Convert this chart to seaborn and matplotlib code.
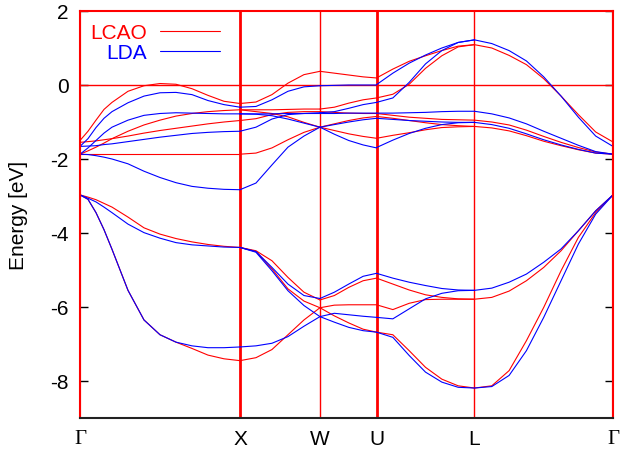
import numpy as np
import pandas as pd
import seaborn as sns
import matplotlib
matplotlib.use("Agg")
import matplotlib.pyplot as plt
from matplotlib.lines import Line2D

# ---------------- data ----------------
sym_labels = ["Γ", "X", "W", "U", "L", "Γ"]
sym_k = [0.0, 1.0, 1.5, 1.8536, 2.4659, 3.3319]

k_GX = [0.0, 0.05, 0.1, 0.15, 0.2, 0.3, 0.4, 0.5, 0.6, 0.7, 0.8, 0.9, 1.0]
k_XW = [1.0, 1.1, 1.2, 1.3, 1.4, 1.5]
k_WU = [1.5, 1.59, 1.68, 1.77, 1.8536]
k_UL = [1.8536, 1.9557, 2.0577, 2.1598, 2.2618, 2.3639, 2.4659]
k_LG = [2.4659, 2.5742, 2.6824, 2.7907, 2.8989, 3.0072, 3.1154, 3.2237, 3.3319]

LCAO_GX = [
    [-1.50, -1.25, -0.95, -0.66, -0.47, -0.17, -0.02, 0.04, 0.02, -0.10, -0.28, -0.44, -0.50],
    [-1.87, -1.78, -1.68, -1.57, -1.45, -1.25, -1.08, -0.95, -0.84, -0.77, -0.72, -0.69, -0.67],
    [-1.55, -1.53, -1.51, -1.48, -1.45, -1.38, -1.30, -1.23, -1.17, -1.11, -1.05, -1.00, -0.96],
    [-1.87, -1.87, -1.87, -1.87, -1.87, -1.87, -1.87, -1.87, -1.87, -1.87, -1.87, -1.87, -1.87],
    [-2.97, -3.03, -3.10, -3.20, -3.30, -3.57, -3.86, -4.03, -4.15, -4.24, -4.31, -4.36, -4.39],
    [-2.97, -3.09, -3.45, -3.91, -4.44, -5.55, -6.35, -6.75, -6.95, -7.12, -7.30, -7.40, -7.45],
]
LDA_GX = [
    [-1.66, -1.45, -1.15, -0.90, -0.72, -0.48, -0.30, -0.21, -0.20, -0.26, -0.42, -0.53, -0.60],
    [-1.87, -1.70, -1.50, -1.30, -1.14, -0.95, -0.82, -0.77, -0.75, -0.76, -0.77, -0.78, -0.78],
    [-1.66, -1.65, -1.64, -1.61, -1.59, -1.53, -1.47, -1.41, -1.36, -1.31, -1.28, -1.26, -1.25],
    [-1.87, -1.88, -1.91, -1.95, -2.00, -2.13, -2.33, -2.50, -2.64, -2.74, -2.79, -2.82, -2.83],
    [-2.97, -3.06, -3.16, -3.30, -3.45, -3.76, -3.99, -4.14, -4.26, -4.32, -4.35, -4.38, -4.39],
    [-2.97, -3.09, -3.45, -3.91, -4.44, -5.55, -6.35, -6.75, -6.95, -7.05, -7.10, -7.10, -7.08],
]

LCAO_XW = [
    [-0.50, -0.46, -0.26, 0.05, 0.28, 0.37],
    [-0.67, -0.72, -0.77, -0.86, -1.01, -1.14],
    [-0.67, -0.67, -0.67, -0.66, -0.65, -0.65],
    [-0.96, -0.91, -0.80, -0.74, -0.72, -0.72],
    [-1.87, -1.84, -1.70, -1.48, -1.28, -1.14],
    [-4.39, -4.48, -4.75, -5.20, -5.60, -5.81],
    [-4.39, -4.50, -4.97, -5.51, -5.84, -6.02],
    [-7.45, -7.37, -7.15, -6.75, -6.35, -6.02],
]
LDA_XW = [
    [-0.60, -0.58, -0.40, -0.17, -0.05, -0.02],
    [-0.78, -0.79, -0.83, -0.92, -1.03, -1.14],
    [-0.78, -0.78, -0.78, -0.77, -0.77, -0.77],
    [-1.25, -1.14, -0.92, -0.80, -0.77, -0.75],
    [-2.83, -2.65, -2.16, -1.68, -1.38, -1.14],
    [-4.39, -4.50, -4.93, -5.38, -5.69, -5.77],
    [-4.39, -4.52, -5.02, -5.56, -5.96, -6.26],
    [-7.08, -7.05, -6.98, -6.80, -6.52, -6.26],
]

LCAO_WU = [
    [0.37, 0.32, 0.27, 0.22, 0.19],
    [-0.65, -0.60, -0.49, -0.40, -0.35],
    [-0.72, -0.74, -0.76, -0.77, -0.77],
    [-1.14, -1.23, -1.32, -1.39, -1.44],
    [-1.14, -1.05, -0.96, -0.89, -0.85],
    [-5.81, -5.69, -5.47, -5.29, -5.22],
    [-6.02, -5.95, -5.94, -5.94, -5.94],
    [-6.02, -6.24, -6.43, -6.60, -6.68],
]
LDA_WU = [
    [-0.02, -0.01, 0.00, 0.00, 0.00],
    [-0.75, -0.72, -0.63, -0.53, -0.47],
    [-0.77, -0.77, -0.76, -0.76, -0.76],
    [-1.14, -1.33, -1.50, -1.62, -1.70],
    [-1.14, -1.07, -1.00, -0.94, -0.90],
    [-5.77, -5.60, -5.38, -5.17, -5.09],
    [-6.26, -6.17, -6.21, -6.25, -6.28],
    [-6.26, -6.41, -6.55, -6.64, -6.68],
]

LCAO_UL = [
    [0.19, 0.43, 0.64, 0.79, 0.93, 1.05, 1.09],
    [-0.35, -0.25, 0.02, 0.45, 0.79, 1.03, 1.09],
    [-0.77, -0.82, -0.87, -0.90, -0.93, -0.94, -0.95],
    [-0.85, -0.90, -0.96, -1.02, -1.07, -1.10, -1.12],
    [-1.44, -1.36, -1.29, -1.21, -1.15, -1.13, -1.12],
    [-5.22, -5.38, -5.54, -5.67, -5.74, -5.78, -5.79],
    [-5.94, -6.07, -5.90, -5.80, -5.79, -5.79, -5.79],
    [-6.68, -6.75, -7.18, -7.63, -7.95, -8.13, -8.19],
]
LDA_UL = [
    [0.01, 0.32, 0.59, 0.81, 1.00, 1.15, 1.22],
    [-0.47, -0.35, 0.07, 0.57, 0.93, 1.15, 1.22],
    [-0.76, -0.76, -0.75, -0.74, -0.72, -0.71, -0.71],
    [-0.90, -0.93, -0.96, -0.98, -1.00, -1.01, -1.01],
    [-1.69, -1.49, -1.31, -1.17, -1.07, -1.02, -1.01],
    [-5.09, -5.22, -5.33, -5.42, -5.50, -5.54, -5.55],
    [-6.28, -6.32, -6.05, -5.78, -5.63, -5.56, -5.55],
    [-6.68, -6.82, -7.31, -7.76, -8.03, -8.17, -8.19],
]

LCAO_LG = [
    [1.09, 1.00, 0.80, 0.55, 0.17, -0.30, -0.80, -1.27, -1.54],
    [-0.95, -1.00, -1.08, -1.22, -1.39, -1.55, -1.69, -1.81, -1.87],
    [-1.12, -1.16, -1.24, -1.37, -1.52, -1.64, -1.75, -1.84, -1.87],
    [-5.79, -5.74, -5.57, -5.29, -4.93, -4.48, -3.94, -3.40, -2.97],
    [-8.19, -8.13, -7.72, -6.91, -6.01, -5.02, -4.12, -3.45, -2.97],
]
LDA_LG = [
    [1.22, 1.12, 0.93, 0.65, 0.22, -0.30, -0.87, -1.38, -1.66],
    [-0.71, -0.78, -0.89, -1.05, -1.25, -1.44, -1.63, -1.80, -1.87],
    [-1.01, -1.07, -1.17, -1.32, -1.48, -1.62, -1.74, -1.84, -1.87],
    [-5.55, -5.49, -5.33, -5.11, -4.79, -4.43, -3.94, -3.40, -2.97],
    [-8.19, -8.15, -7.85, -7.18, -6.28, -5.29, -4.30, -3.49, -2.97],
]

methods = ["LCAO", "LDA"]
method_colors = {"LCAO": "#ff0000", "LDA": "#0000ff"}

# ---------------- build long table ----------------
segments = {
    "LCAO": [("GX", k_GX, LCAO_GX), ("XW", k_XW, LCAO_XW), ("WU", k_WU, LCAO_WU),
             ("UL", k_UL, LCAO_UL), ("LG", k_LG, LCAO_LG)],
    "LDA": [("GX", k_GX, LDA_GX), ("XW", k_XW, LDA_XW), ("WU", k_WU, LDA_WU),
            ("UL", k_UL, LDA_UL), ("LG", k_LG, LDA_LG)],
}
rows = []
for m in methods:
    for seg, kg, curves in segments[m]:
        for ci, curve in enumerate(curves):
            for k, e in zip(kg, curve):
                rows.append({"method": m, "unit": f"{m}-{seg}-{ci}", "k": k, "E": e})
df = pd.DataFrame(rows)

# ---------------- plot ----------------
sns.set_style("ticks")
plt.rcParams["font.family"] = ["Liberation Sans", "DejaVu Sans"]
plt.rcParams["axes.unicode_minus"] = False
for key in ["text.color", "axes.labelcolor", "xtick.color", "ytick.color"]:
    plt.rcParams[key] = "black"
FS = 15

fig = plt.figure(figsize=(6.26, 4.52), dpi=100)
ax = fig.add_axes([80 / 626, 33 / 452, 533 / 626, 407 / 452])

sns.lineplot(data=df, x="k", y="E", hue="method", hue_order=methods,
             units="unit", estimator=None, sort=False,
             palette=method_colors, linewidth=0.8, legend=False, ax=ax)

# high-symmetry vertical lines and Fermi level
vlw = [1.5, 2.0, 1.0, 2.0, 1.0, 1.5]
for kk, lw in zip(sym_k, vlw):
    ax.axvline(kk, color="#ff0000", lw=lw, zorder=1)
ax.axhline(0.0, color="#ff0000", lw=1.0, zorder=1)

ax.set_xlim(sym_k[0], sym_k[-1])
ax.set_ylim(-9, 2)
ax.set_yticks([-8, -6, -4, -2, 0, 2])
ax.set_yticklabels(["-8", "-6", "-4", "-2", "0", "2"], fontsize=FS, color="black")
ax.set_xticks(sym_k)
ax.set_xticklabels(sym_labels, fontsize=FS, color="black")
for lbl in ax.get_xticklabels():
    if lbl.get_text() == "Γ":
        lbl.set_fontfamily(["Liberation Serif", "DejaVu Serif"])
ax.tick_params(axis="y", direction="in", length=6, width=1, left=True, right=True,
               pad=8, color="black", labelcolor="black")
ax.tick_params(axis="x", length=0, pad=8, labelcolor="black")
ax.set_xlabel("")
ax.set_ylabel("Energy [eV]", fontsize=FS, labelpad=16, color="black")

for side in ["left", "right", "top"]:
    ax.spines[side].set_color("#ff0000")
    ax.spines[side].set_linewidth(1.5)
ax.spines["bottom"].set_color("#222222")
ax.spines["bottom"].set_linewidth(1.5)

handles = [Line2D([], [], color=method_colors[m], lw=0.8) for m in methods]
ax.legend(handles, methods, loc="upper left", bbox_to_anchor=(0.012, 0.980),
          markerfirst=False, frameon=False, labelcolor=[method_colors[m] for m in methods],
          fontsize=FS, handlelength=2.9, handletextpad=0.6, labelspacing=0.05,
          borderpad=0.2, borderaxespad=0.0)

fig.savefig("out.png", dpi=100)
